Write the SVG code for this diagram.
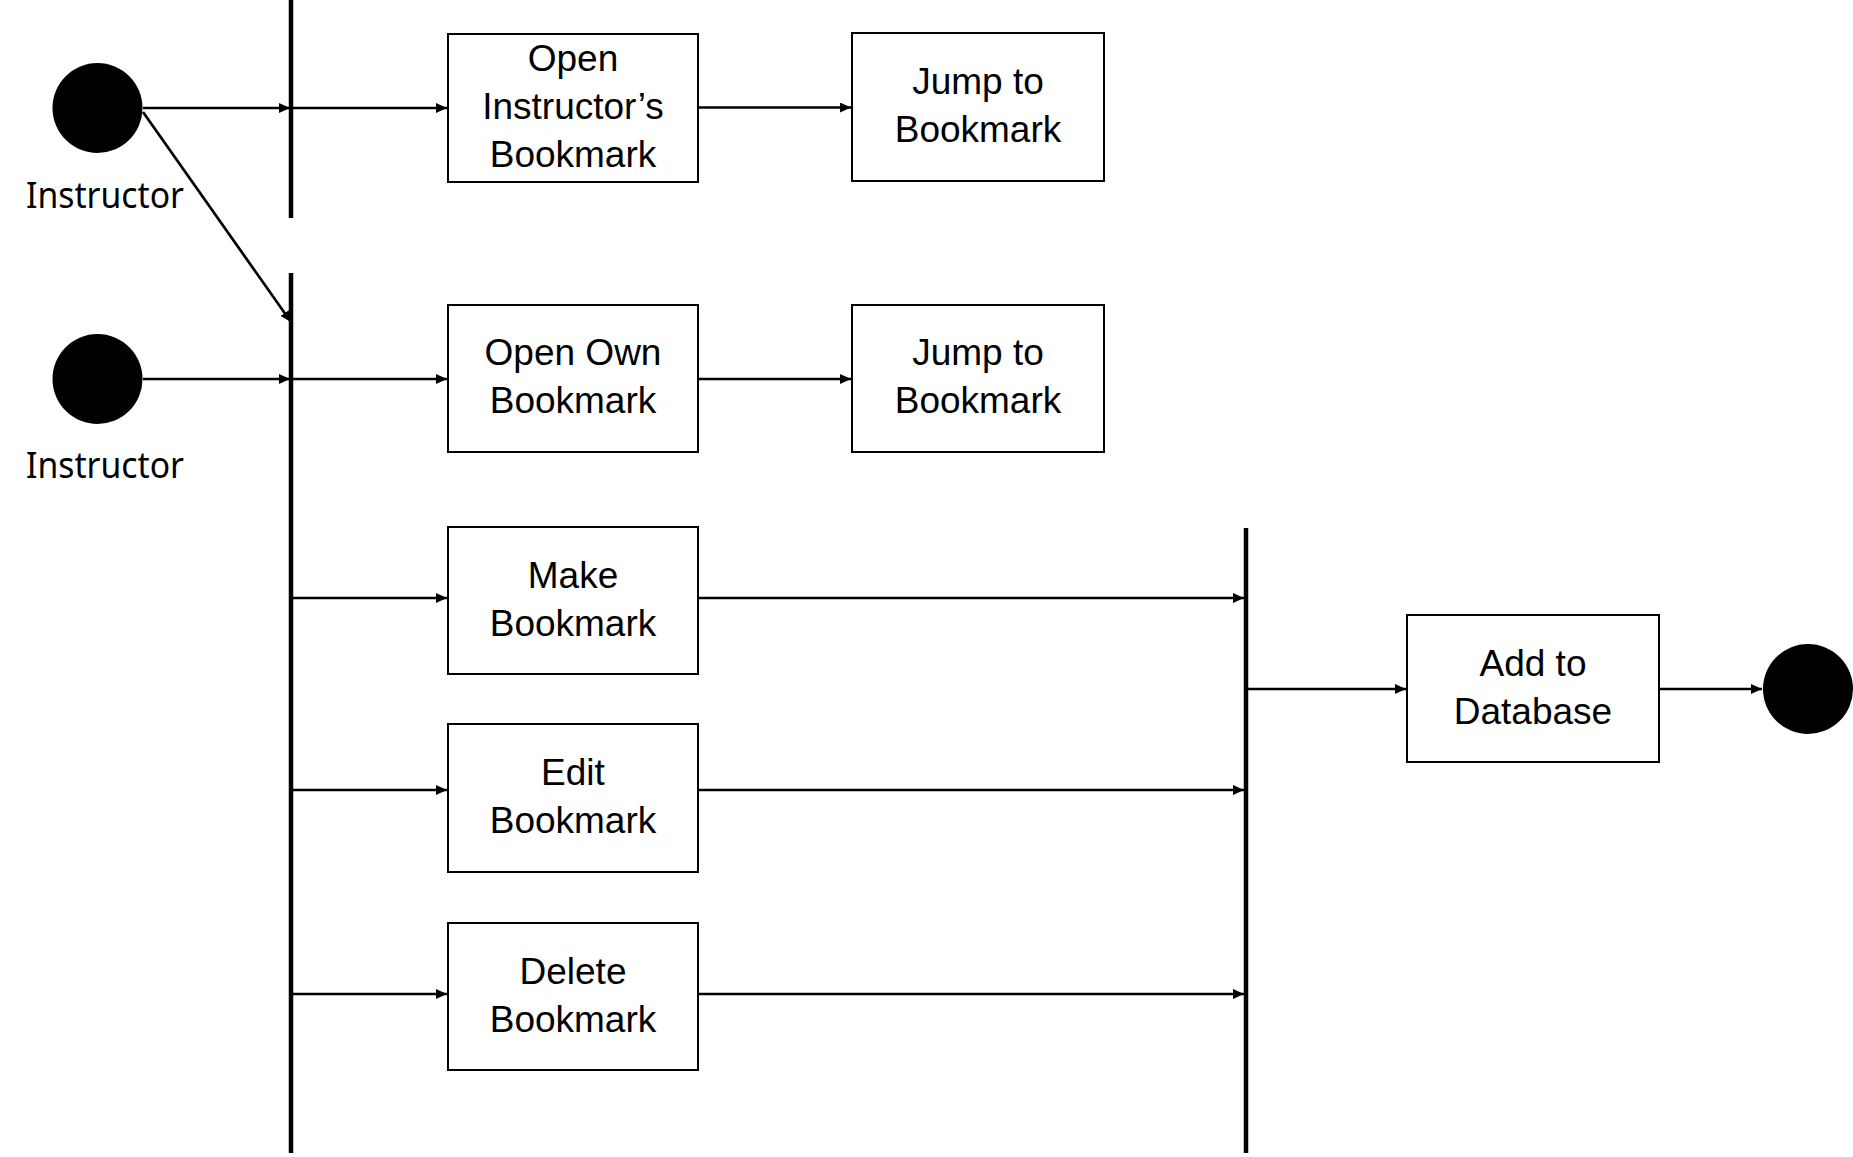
<svg xmlns="http://www.w3.org/2000/svg" width="1853" height="1157" viewBox="0 0 1853 1157">
<style>
.box{fill:#fff;stroke:#000;stroke-width:2}
.lbl{font-family:"Liberation Sans",Arial,sans-serif;font-size:37px;fill:#000;text-anchor:middle}
.act{font-family:"Noto Sans","Open Sans",sans-serif;font-size:37px;fill:#000}
.bar{stroke:#000;stroke-width:4.5}
.edge{stroke:#000;stroke-width:2.7;fill:none;marker-end:url(#ah)}
.dot{fill:#000}
</style>
<defs>
<marker id="ah" markerUnits="userSpaceOnUse" markerWidth="11" markerHeight="10" refX="11" refY="5" orient="auto">
<path d="M0,0 L11,5 L0,10 z" fill="#000"/>
</marker>
</defs>
<rect width="1853" height="1157" fill="#fff"/>
<g id="start1"><circle class="dot" cx="97.5" cy="108" r="45"/><text class="act" x="26" y="208" textLength="158" lengthAdjust="spacingAndGlyphs">Instructor</text></g>
<g id="start2"><circle class="dot" cx="97.5" cy="379" r="45"/><text class="act" x="26" y="478" textLength="158" lengthAdjust="spacingAndGlyphs">Instructor</text></g>
<g id="fork1"><line class="bar" x1="291" y1="0" x2="291" y2="218"/></g>
<g id="fork2"><line class="bar" x1="291" y1="273" x2="291" y2="1153"/></g>
<g id="join"><line class="bar" x1="1246" y1="528" x2="1246" y2="1153"/></g>
<g id="openInstructor"><rect class="box" x="448" y="34" width="250" height="148"/><text class="lbl" x="573" y="71">Open</text><text class="lbl" x="573" y="119">Instructor’s</text><text class="lbl" x="573" y="167">Bookmark</text></g>
<g id="jump1"><rect class="box" x="852" y="33" width="252" height="148"/><text class="lbl" x="978" y="94">Jump to</text><text class="lbl" x="978" y="142">Bookmark</text></g>
<g id="openOwn"><rect class="box" x="448" y="305" width="250" height="147"/><text class="lbl" x="573" y="365">Open Own</text><text class="lbl" x="573" y="413">Bookmark</text></g>
<g id="jump2"><rect class="box" x="852" y="305" width="252" height="147"/><text class="lbl" x="978" y="365">Jump to</text><text class="lbl" x="978" y="413">Bookmark</text></g>
<g id="make"><rect class="box" x="448" y="527" width="250" height="147"/><text class="lbl" x="573" y="588">Make</text><text class="lbl" x="573" y="636">Bookmark</text></g>
<g id="edit"><rect class="box" x="448" y="724" width="250" height="148"/><text class="lbl" x="573" y="785">Edit</text><text class="lbl" x="573" y="833">Bookmark</text></g>
<g id="delete"><rect class="box" x="448" y="923" width="250" height="147"/><text class="lbl" x="573" y="984">Delete</text><text class="lbl" x="573" y="1032">Bookmark</text></g>
<g id="addDb"><rect class="box" x="1407" y="615" width="252" height="147"/><text class="lbl" x="1533" y="676">Add to</text><text class="lbl" x="1533" y="724">Database</text></g>
<g id="end"><circle class="dot" cx="1808" cy="689" r="45"/></g>
<g id="connectors">
<line class="edge" x1="143" y1="108" x2="290" y2="108"/>
<line class="edge" x1="293" y1="108" x2="447" y2="108"/>
<line class="edge" x1="143" y1="112" x2="291" y2="322"/>
<line class="edge" x1="699" y1="107.5" x2="851" y2="107.5"/>
<line class="edge" x1="143" y1="379" x2="290" y2="379"/>
<line class="edge" x1="293" y1="379" x2="447" y2="379"/>
<line class="edge" x1="699" y1="379" x2="851" y2="379"/>
<line class="edge" x1="293" y1="598" x2="447" y2="598"/>
<line class="edge" x1="293" y1="790" x2="447" y2="790"/>
<line class="edge" x1="293" y1="994" x2="447" y2="994"/>
<line class="edge" x1="699" y1="598" x2="1244" y2="598"/>
<line class="edge" x1="699" y1="790" x2="1244" y2="790"/>
<line class="edge" x1="699" y1="994" x2="1244" y2="994"/>
<line class="edge" x1="1248" y1="689" x2="1406" y2="689"/>
<line class="edge" x1="1660" y1="689" x2="1762" y2="689"/>
</g>
</svg>
